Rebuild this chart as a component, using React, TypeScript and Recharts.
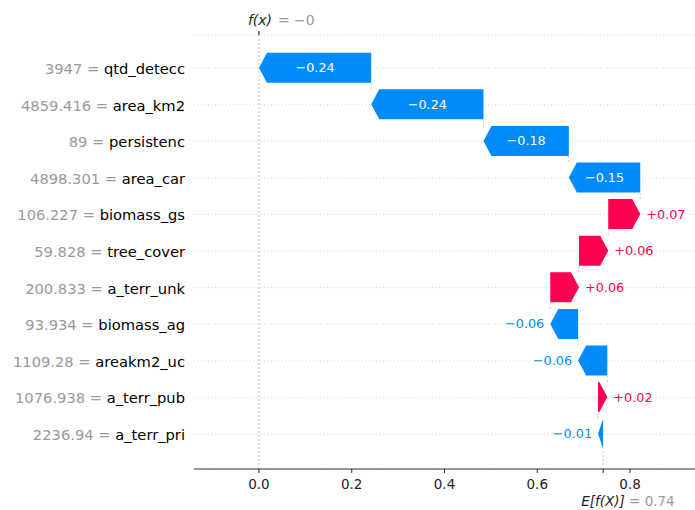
import React from "react";
import { ComposedChart, Bar, XAxis, YAxis, CartesianGrid, ReferenceLine } from "recharts";

const features = ["qtd_detecc", "area_km2", "persistenc", "area_car", "biomass_gs", "tree_cover", "a_terr_unk", "biomass_ag", "areakm2_uc", "a_terr_pub", "a_terr_pri"];
const featureValues = ["3947", "4859.416", "89", "4898.301", "106.227", "59.828", "200.833", "93.934", "1109.28", "1076.938", "2236.94"];
const shapValues = [-0.242, -0.242, -0.184, -0.154, 0.069, 0.063, 0.062, -0.06, -0.063, 0.02, -0.011];
const baseValue = 0.742;
const baseLabel = "0.74";
const fxLabel = "\u22120";
const xTicks = [0, 0.2, 0.4, 0.6, 0.8];

const BLUE = "#008bfb";
const RED = "#ff0051";
const FONT = "DejaVu Sans, sans-serif";

const n = features.length;

// build rows: bottom row starts at base value, each row adds its contribution
const starts: number[] = new Array(n);
{
  let acc = baseValue;
  for (let i = n - 1; i >= 0; i--) {
    starts[i] = acc;
    acc += shapValues[i];
  }
}
const fx = starts[0] + shapValues[0];

const data = features.map((f, i) => {
  const s = starts[i];
  const e = s + shapValues[i];
  return {
    name: f,
    pos: i + 1,
    value: shapValues[i],
    range: [Math.min(s, e), Math.max(s, e)],
  };
});

const fmt = (v: number) => (v < 0 ? "\u2212" : "+") + Math.abs(v).toFixed(2);

const ArrowShape = (props: any) => {
  const { x, y, width, height, payload } = props;
  if (x == null || y == null) return null;
  const L = Math.min(x, x + width);
  const W = Math.abs(width);
  const R = L + W;
  const top = y;
  const bot = y + height;
  const cy = y + height / 2;
  const h = Math.min(8, W);
  const neg = payload.value < 0;
  const pts = neg
    ? `${L},${cy} ${L + h},${top} ${R},${top} ${R},${bot} ${L + h},${bot}`
    : `${L},${top} ${R - h},${top} ${R},${cy} ${R - h},${bot} ${L},${bot}`;
  const color = neg ? BLUE : RED;
  const label = fmt(payload.value);
  const inside = W > 52;
  let tx: number;
  let anchor: "start" | "middle" | "end";
  let fill: string;
  if (inside) {
    tx = L + W / 2;
    anchor = "middle";
    fill = "#fff";
  } else if (neg) {
    tx = L - 6;
    anchor = "end";
    fill = color;
  } else {
    tx = R + 6;
    anchor = "start";
    fill = color;
  }
  return (
    <g>
      <polygon points={pts} fill={color} />
      <text x={tx} y={cy} textAnchor={anchor} dominantBaseline="central" fontSize={12.8} fontFamily={FONT} fill={fill}>
        {label}
      </text>
    </g>
  );
};

const YTick = (props: any) => {
  const { x, y, payload } = props;
  const i = payload.value - 1;
  if (i < 0 || i >= n) return null;
  return (
    <text x={x} y={y} textAnchor="end" dominantBaseline="central" fontSize={14.7} fontFamily={FONT}>
      <tspan fill="#999999">{`${featureValues[i]} = `}</tspan>
      <tspan fill="#000000">{features[i]}</tspan>
    </text>
  );
};

const XTick = (props: any) => {
  const { x, y, payload } = props;
  if (payload.value === baseValue) {
    return (
      <text x={x - 22} y={y + 31} textAnchor="start" fontSize={13.5} fontFamily={FONT}>
        <tspan fill="#222" fontStyle="italic">E[f(X)]</tspan>
        <tspan fill="#999999">{` = ${baseLabel}`}</tspan>
      </text>
    );
  }
  return (
    <text x={x} y={y + 14} textAnchor="middle" fontSize={13.5} fontFamily={FONT} fill="#222">
      {payload.value.toFixed(1)}
    </text>
  );
};

const TopTick = (props: any) => {
  const { x, y } = props;
  return (
    <g>
      <text x={x - 11} y={y - 4} textAnchor="start" fontSize={14} fontFamily={FONT} fill="#222" fontStyle="italic">
        f(x)
      </text>
      <text x={x + 19} y={y - 4} textAnchor="start" fontSize={14} fontFamily={FONT} fill="#999999">
        {`= ${fxLabel}`}
      </text>
    </g>
  );
};

export default function App() {
  const domainX: [number, number] = [-0.14, 0.94];
  const yDomain: [number, number] = [0.098, 11.956];
  const yTicks = data.map((d) => d.pos);
  return (
    <div style={{ position: "absolute", left: 0, top: 0, background: "#fff" }}>
      <ComposedChart
        width={695}
        height={510}
        data={data}
        layout="vertical"
        margin={{ top: 0, right: 0, bottom: 11, left: 0 }}
      >
        <CartesianGrid horizontal={true} vertical={false} stroke="#cccccc" strokeDasharray="1 2.5" strokeWidth={0.8} />
        <XAxis
          xAxisId="top"
          orientation="top"
          type="number"
          domain={domainX}
          allowDataOverflow
          ticks={[fx]}
          interval={0}
          height={35}
          axisLine={false}
          tickLine={{ stroke: "#000" }}
          tickSize={4}
          tick={<TopTick />}
        />
        <XAxis
          type="number"
          domain={domainX}
          allowDataOverflow
          ticks={[...xTicks, baseValue]}
          interval={0}
          height={30}
          axisLine={{ stroke: "#333" }}
          tickLine={{ stroke: "#333" }}
          tickSize={4}
          tick={<XTick />}
        />
        <YAxis
          type="number"
          dataKey="pos"
          domain={yDomain}
          allowDataOverflow
          ticks={yTicks}
          interval={0}
          width={194}
          axisLine={false}
          tickLine={false}
          tickSize={0}
          tickMargin={9}
          tick={<YTick />}
        />
        <ReferenceLine x={fx} stroke="#bbbbbb" strokeDasharray="2 2" strokeWidth={0.8} />
        <ReferenceLine
          segment={[
            { x: baseValue, y: yDomain[1] },
            { x: baseValue, y: n + 0.41 },
          ]}
          stroke="#bbbbbb"
          strokeDasharray="2 2"
          strokeWidth={0.8}
        />
        {data.slice(0, n - 1).map((d, i) => {
          const b = starts[i];
          return (
            <ReferenceLine
              key={`c${i}`}
              segment={[
                { x: b, y: d.pos + 0.41 },
                { x: b, y: d.pos + 0.59 },
              ]}
              stroke="#bbbbbb"
              strokeDasharray="2 2"
              strokeWidth={0.8}
            />
          );
        })}
        <Bar dataKey="range" barSize={30} isAnimationActive={false} shape={<ArrowShape />} />
      </ComposedChart>
    </div>
  );
}
